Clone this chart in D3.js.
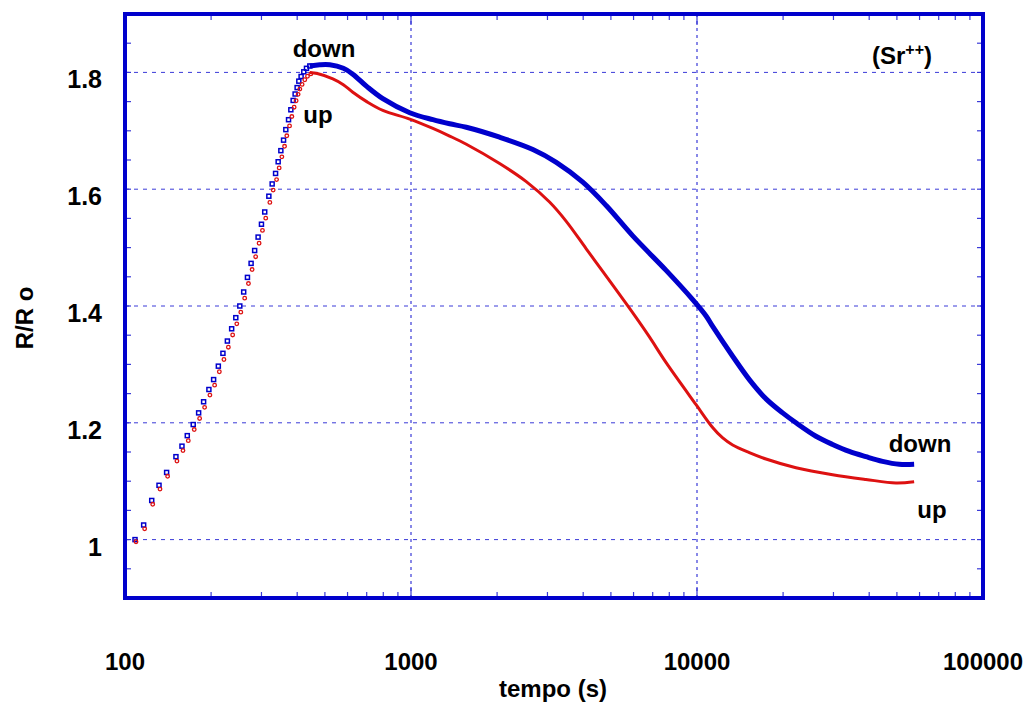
<!DOCTYPE html>
<html>
<head>
<meta charset="utf-8">
<script src="https://cdn.jsdelivr.net/npm/d3@7"></script>
<style>
  html, body { margin: 0; padding: 0; background: #fff; }
  svg { display: block; }
  text { font-family: "Liberation Sans", Arial, sans-serif; font-weight: bold; fill: #000; }
</style>
</head>
<body>
<svg id="chart" width="1030" height="707"></svg>
<script>
// ---- data ----
const earlyT = [108.4,116.2,124.0,131.5,139.8,150.7,158.2,165.1,173.2,180.9,188.3,196.5,204.1,212,220,228,236,244,252,260,268,276,284,292,300,308,318.4,327.0,336.1,343.2,350.7,358.4,365.0,373.1,380.1,387.2,393.4,399.8,405.3,412.8,421.8,431.1,442.8];
const downEarlyR = [1.000,1.025,1.067,1.093,1.115,1.142,1.160,1.178,1.197,1.217,1.236,1.257,1.274,1.297,1.319,1.340,1.361,1.380,1.400,1.424,1.449,1.473,1.495,1.518,1.540,1.561,1.588,1.609,1.627,1.647,1.666,1.684,1.702,1.719,1.736,1.752,1.763,1.774,1.785,1.793,1.801,1.807,1.811];
const upEarlyR = [0.999,1.021,1.063,1.089,1.111,1.137,1.155,1.172,1.191,1.210,1.229,1.250,1.267,1.290,1.311,1.332,1.353,1.372,1.392,1.416,1.441,1.465,1.487,1.510,1.532,1.553,1.580,1.601,1.619,1.639,1.658,1.676,1.694,1.711,1.727,1.743,1.754,1.765,1.774,1.782,1.790,1.796,1.800];

const downT = [442.8,480,520,580,626,700,797,990,1193,1365,1561,2041,2668,3221,3988,4814,5963,7800,9660,10760,11345,13325,15240,17430,19925,22190,26060,29790,34070,38950,44520,50930,57440];
const downR = [1.811,1.813,1.813,1.807,1.797,1.776,1.755,1.731,1.719,1.712,1.706,1.689,1.668,1.646,1.612,1.572,1.520,1.461,1.411,1.383,1.365,1.314,1.274,1.241,1.217,1.200,1.177,1.163,1.151,1.142,1.134,1.129,1.129];

const upT = [442.8,470,533,580,626,700,797,990,1193,1365,1561,2041,2530,3051,3490,4099,4814,5655,6128,6818,7800,9927,11340,12300,13325,15240,17430,22190,29790,38950,49600,57440];
const upR = [1.800,1.798,1.789,1.779,1.766,1.750,1.735,1.720,1.704,1.691,1.677,1.644,1.613,1.578,1.545,1.498,1.451,1.404,1.380,1.347,1.303,1.231,1.192,1.174,1.162,1.149,1.138,1.123,1.111,1.103,1.097,1.099];

const xTickValues = [100, 1000, 10000, 100000];
const xTickLabels = ["100", "1000", "10000", "100000"];
const yTickValues = [1.0, 1.2, 1.4, 1.6, 1.8];
const yTickLabels = ["1", "1.2", "1.4", "1.6", "1.8"];
const xGrid = [1000, 10000];

// ---- layout ----
const L = 125, R = 983, T = 14, B = 598;
const blue = "#0000cc", red = "#dd1111", gridC = "#3a3ad8";

const svg = d3.select("#chart");
const x = d3.scaleLog().domain([100, 100000]).range([L, R]);
const y = d3.scaleLinear().domain([0.9, 1.9]).range([B, T]);

// grid
const g = svg.append("g");
g.selectAll(".hg").data(yTickValues).join("line")
  .attr("x1", L).attr("x2", R).attr("y1", d => y(d)).attr("y2", d => y(d))
  .attr("stroke", gridC).attr("stroke-width", 1).attr("stroke-dasharray", "4,5");
g.selectAll(".vg").data(xGrid).join("line")
  .attr("y1", T).attr("y2", B).attr("x1", d => x(d)).attr("x2", d => x(d))
  .attr("stroke", gridC).attr("stroke-width", 1.2).attr("stroke-dasharray", "3,4");

// minor ticks y (every 0.05) both sides
const yMinor = d3.range(0, 21).map(i => 0.9 + i * 0.05);
const tk = svg.append("g").attr("stroke", gridC).attr("stroke-width", 1.2);
tk.selectAll(".yl").data(yMinor).join("line")
  .attr("x1", L).attr("x2", L + 6).attr("y1", d => y(d)).attr("y2", d => y(d));
tk.selectAll(".yr").data(yMinor).join("line")
  .attr("x1", R).attr("x2", R - 6).attr("y1", d => y(d)).attr("y2", d => y(d));
// x minor ticks
const xMinor = [];
[100, 1000, 10000].forEach(dec => { for (let k = 2; k <= 9; k++) xMinor.push(dec * k); });
tk.selectAll(".xb").data(xMinor).join("line")
  .attr("x1", d => x(d)).attr("x2", d => x(d)).attr("y1", B).attr("y2", B - 6);
tk.selectAll(".xt").data(xMinor).join("line")
  .attr("x1", d => x(d)).attr("x2", d => x(d)).attr("y1", T).attr("y2", T + 6);
tk.selectAll(".xbm").data(xGrid).join("line")
  .attr("x1", d => x(d)).attr("x2", d => x(d)).attr("y1", B).attr("y2", B - 11);
tk.selectAll(".xtm").data(xGrid).join("line")
  .attr("x1", d => x(d)).attr("x2", d => x(d)).attr("y1", T).attr("y2", T + 11);

// dense curves
const line = d3.line().x(d => x(d[0])).y(d => y(d[1])).curve(d3.curveCatmullRom.alpha(0.5));
const downDense = downT.map((t, i) => [t, downR[i]]);
const upDense = upT.map((t, i) => [t, upR[i]]);
svg.append("path").attr("d", line(downDense)).attr("fill", "none")
  .attr("stroke", blue).attr("stroke-width", 5).attr("stroke-linejoin", "round");
svg.append("path").attr("d", line(upDense)).attr("fill", "none")
  .attr("stroke", red).attr("stroke-width", 3).attr("stroke-linejoin", "round");

// early markers
const downPts = earlyT.map((t, i) => [t, downEarlyR[i]]);
const upPts = earlyT.map((t, i) => [t, upEarlyR[i]]);
svg.append("g").selectAll("rect").data(downPts).join("rect")
  .attr("x", d => x(d[0]) - 2).attr("y", d => y(d[1]) - 2)
  .attr("width", 4).attr("height", 4)
  .attr("fill", "none").attr("stroke", blue).attr("stroke-width", 1.5);
svg.append("g").selectAll("circle").data(upPts).join("circle")
  .attr("cx", d => x(d[0]) + 1).attr("cy", d => y(d[1]) + 1.5).attr("r", 1.8)
  .attr("fill", "none").attr("stroke", red).attr("stroke-width", 1.3);

// frame
svg.append("rect").attr("x", L).attr("y", T).attr("width", R - L).attr("height", B - T)
  .attr("fill", "none").attr("stroke", blue).attr("stroke-width", 4);

// tick labels
svg.append("g").selectAll("text").data(xTickValues).join("text")
  .attr("x", d => x(d)).attr("y", 670).attr("text-anchor", "middle")
  .style("font-size", "24px").text((d, i) => xTickLabels[i]);
svg.append("g").selectAll("text").data(yTickValues).join("text")
  .attr("x", 102).attr("y", d => y(d) + 16).attr("text-anchor", "end")
  .style("font-size", "25px").text((d, i) => yTickLabels[i]);

// axis titles
svg.append("text").attr("x", 553).attr("y", 697).attr("text-anchor", "middle")
  .style("font-size", "24px").text("tempo (s)");
svg.append("text").attr("transform", "translate(33,318) rotate(-90)").attr("text-anchor", "middle")
  .style("font-size", "24px").text("R/R o");

// annotations
const sr = svg.append("text").attr("x", 872).attr("y", 64).style("font-size", "24px");
sr.append("tspan").text("(Sr");
sr.append("tspan").attr("dy", -9).style("font-size", "16px").text("++");
sr.append("tspan").attr("dy", 9).text(")");
svg.append("text").attr("x", 324).attr("y", 57).attr("text-anchor", "middle").style("font-size", "24px").text("down");
svg.append("text").attr("x", 318).attr("y", 123).attr("text-anchor", "middle").style("font-size", "24px").text("up");
svg.append("text").attr("x", 920).attr("y", 452).attr("text-anchor", "middle").style("font-size", "24px").text("down");
svg.append("text").attr("x", 932).attr("y", 518).attr("text-anchor", "middle").style("font-size", "24px").text("up");
</script>
</body>
</html>
